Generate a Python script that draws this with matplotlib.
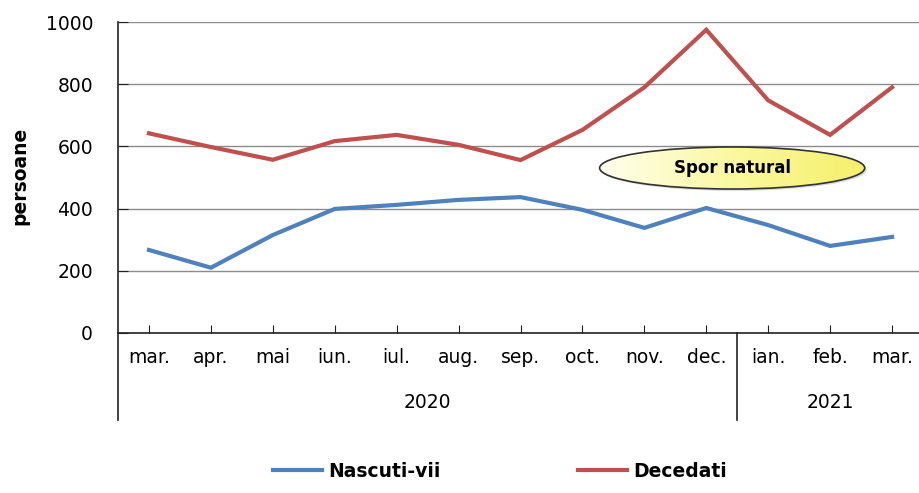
import numpy as np
import matplotlib
matplotlib.use('Agg')
import matplotlib.pyplot as plt
from matplotlib.patches import Ellipse
from matplotlib.colors import LinearSegmentedColormap
import matplotlib.transforms as mtransforms

# data
months = ['mar.', 'apr.', 'mai', 'iun.', 'iul.', 'aug.', 'sep.', 'oct.', 'nov.', 'dec.', 'ian.', 'feb.', 'mar.']
years = ['2020', '2021']
months_per_year = [10, 3]
nascuti = [267, 210, 315, 399, 412, 428, 437, 396, 338, 402, 347, 280, 309]
decedati = [642, 598, 557, 617, 637, 605, 556, 653, 790, 975, 748, 637, 790]

blue = '#4F81BD'
red = '#C0504D'

fig = plt.figure(figsize=(9.19, 4.93), dpi=100)
W, H = 919, 493
ax = fig.add_axes([118 / W, 1 - 333 / H, (923 - 118) / W, (333 - 22) / H])

x = np.arange(len(months))
l1, = ax.plot(x, nascuti, color=blue, lw=3, solid_joinstyle='miter', label='Nascuti-vii')
l2, = ax.plot(x, decedati, color=red, lw=3, solid_joinstyle='miter', label='Decedati')

ax.set_ylim(0, 1000)
ax.set_yticks(range(0, 1001, 200))
ax.set_xticks(x)
ax.set_xticklabels(months, fontsize=13.5)
ax.tick_params(axis='y', labelsize=13.5, direction='in', length=7, pad=18, colors='#222222')
ax.tick_params(axis='x', direction='in', length=6, pad=11, colors='#222222')
for lab in ax.get_xticklabels() + ax.get_yticklabels():
    lab.set_color('black')
ax.grid(axis='y', color='#8c8c8c', lw=1)
ax.set_axisbelow(True)
for s in ['top', 'right']:
    ax.spines[s].set_visible(False)
for s in ['left', 'bottom']:
    ax.spines[s].set_color('#222222')
    ax.spines[s].set_linewidth(1.2)

# multi-level category axis: year labels and separators
trans = mtransforms.blended_transform_factory(ax.transData, ax.transAxes)
y_low = -(420 - 333) / (333 - 22)
start = 0
for yr, n in zip(years, months_per_year):
    ax.text(start + (n - 1) / 2, -(403 - 333) / (333 - 22), yr, transform=trans,
            ha='center', va='center', fontsize=13.5)
    ax.plot([start - 0.5, start - 0.5], [0, y_low], transform=trans, color='#222222',
            lw=1.2, clip_on=False)
    start += n

# "Spor natural" ellipse with gradient fill
cx, cy = (732 - 149) / 61.9, (333 - 168) / 0.311
ew, eh = 265 / 61.9, 42 / 0.311
shadow = Ellipse((cx + 0.03, cy - 6), ew, eh, facecolor='#d8d8d8', edgecolor='none', zorder=4)
ax.add_patch(shadow)
ell = Ellipse((cx, cy), ew, eh, facecolor='none', edgecolor='#333333', lw=1.2, zorder=6)
ax.add_patch(ell)
grad = np.linspace(0, 1, 256).reshape(1, -1)
cmap = LinearSegmentedColormap.from_list('yel', ['#ffffee', '#fbf8a0', '#f5f06a'])
img = ax.imshow(grad, cmap=cmap, aspect='auto', zorder=5,
                extent=[cx - ew / 2, cx + ew / 2, cy - eh / 2, cy + eh / 2])
img.set_clip_path(ell)
ax.text(cx, cy, 'Spor natural', ha='center', va='center', fontsize=12, fontweight='bold', zorder=7)
ax.set_xlim(-0.5, len(months) - 0.5)
ax.set_ylim(0, 1000)

fig.text(20 / W, 1 - 176 / H, 'persoane', rotation=90, ha='center', va='center',
         fontsize=13.5, fontweight='bold')

fig.legend(handles=[l1, l2], loc='lower center', bbox_to_anchor=(500 / W, -0.01), ncol=2,
           frameon=False, prop={'size': 13.5, 'weight': 'bold'}, handlelength=2.6,
           handletextpad=0.35, columnspacing=7.3)

fig.savefig('out.png', dpi=100)
